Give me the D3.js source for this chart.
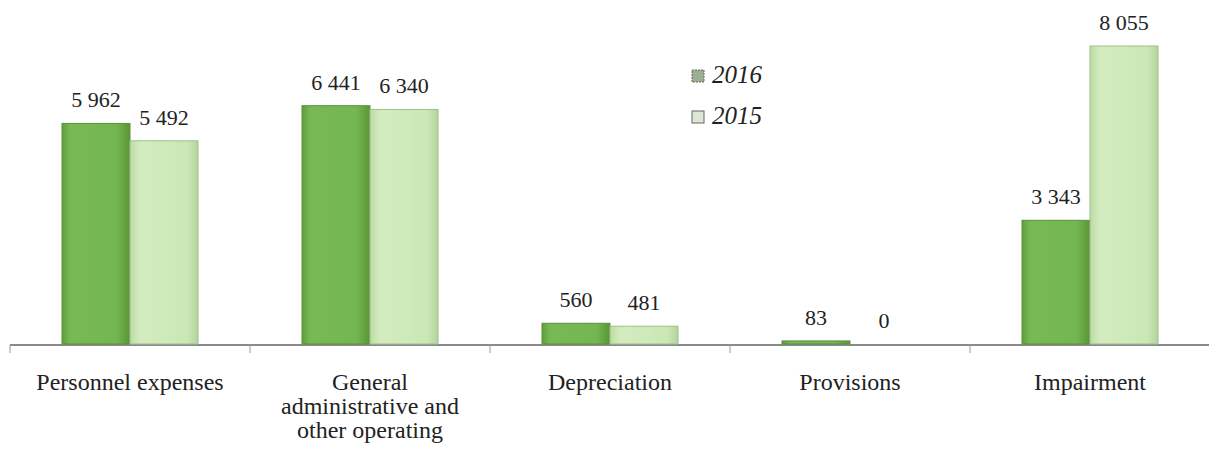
<!DOCTYPE html>
<html>
<head>
<meta charset="utf-8">
<script src="https://cdn.jsdelivr.net/npm/d3@7/dist/d3.min.js"></script>
<style>
  html, body { margin: 0; padding: 0; background: #fff; }
  svg { display: block; }
  text { fill: #222; }
</style>
</head>
<body>
<svg id="chart" width="1209" height="449" font-family="'Liberation Serif', serif"></svg>
<script>
// Operating expenses by type, 2016 vs 2015
const categories = [
  ["Personnel expenses"],
  ["General", "administrative and", "other operating"],
  ["Depreciation"],
  ["Provisions"],
  ["Impairment"]
];
const seriesNames = ["2016", "2015"];
const values2016 = [5962, 6441, 560, 83, 3343];
const values2015 = [5492, 6340, 481, 0, 8055];
const valueLabels2016 = ["5 962", "6 441", "560", "83", "3 343"];
const valueLabels2015 = ["5 492", "6 340", "481", "0", "8 055"];

const svg = d3.select("#chart");
const baseline = 344;

const x0 = d3.scaleBand()
  .domain(d3.range(categories.length))
  .range([10, 1210])
  .paddingInner(0)
  .paddingOuter(0);

const x1 = d3.scaleBand()
  .domain(seriesNames)
  .range([52, 188])
  .padding(0);

const y = d3.scaleLinear()
  .domain([0, 8055])
  .range([baseline, 46]);

// horizontal shading for the bars
const defs = svg.append("defs");
function grad(id, stops) {
  const g = defs.append("linearGradient").attr("id", id)
    .attr("x1", "0%").attr("x2", "100%").attr("y1", "0%").attr("y2", "0%");
  stops.forEach(([o, c]) => g.append("stop").attr("offset", o).attr("stop-color", c));
}
grad("g2016", [["0%", "#5f9e3c"], ["12%", "#78b955"], ["80%", "#74b651"], ["100%", "#5a9538"]]);
grad("g2015", [["0%", "#bcdca3"], ["15%", "#d3ecc1"], ["85%", "#cbe7b5"], ["100%", "#b3d39b"]]);

const fills = { "2016": "url(#g2016)", "2015": "url(#g2015)" };
const strokes = { "2016": "#5a8f3a", "2015": "#9fbf8a" };

const rows = categories.map((c, i) => ({
  i,
  bars: [
    { s: "2016", v: values2016[i], label: valueLabels2016[i] },
    { s: "2015", v: values2015[i], label: valueLabels2015[i] }
  ]
}));

// axis line and tick marks
svg.append("line")
  .attr("x1", 10).attr("x2", 1209)
  .attr("y1", baseline + 1).attr("y2", baseline + 1)
  .attr("stroke", "#8a8a8a").attr("stroke-width", 2);

svg.selectAll(".tick")
  .data(d3.range(categories.length))
  .join("line")
  .attr("class", "tick")
  .attr("x1", d => x0(d)).attr("x2", d => x0(d))
  .attr("y1", baseline + 1).attr("y2", baseline + 9)
  .attr("stroke", "#9a9a9a").attr("stroke-width", 1);

const groups = svg.selectAll(".grp")
  .data(rows)
  .join("g")
  .attr("class", "grp")
  .attr("transform", d => `translate(${x0(d.i)},0)`);

groups.selectAll("rect")
  .data(d => d.bars)
  .join("rect")
  .attr("x", d => x1(d.s))
  .attr("y", d => y(d.v))
  .attr("width", x1.bandwidth())
  .attr("height", d => baseline - y(d.v))
  .attr("fill", d => fills[d.s])
  .attr("stroke", d => d.v > 0 ? strokes[d.s] : "none")
  .attr("stroke-width", 1);

groups.selectAll("text.val")
  .data(d => d.bars)
  .join("text")
  .attr("class", "val")
  .attr("x", d => x1(d.s) + x1.bandwidth() / 2)
  .attr("y", d => y(d.v) - 16)
  .attr("text-anchor", "middle")
  .attr("font-size", 22)
  .text(d => d.label);

// category labels
svg.selectAll("text.cat")
  .data(categories)
  .join("text")
  .attr("class", "cat")
  .attr("x", (d, i) => x0(i) + x0.bandwidth() / 2)
  .attr("y", 390)
  .attr("text-anchor", "middle")
  .attr("font-size", 24)
  .selectAll("tspan")
  .data(d => d)
  .join("tspan")
  .attr("x", function () { return d3.select(this.parentNode).attr("x"); })
  .attr("dy", (d, j) => j === 0 ? 0 : 24)
  .text(d => d);

// legend
const legend = svg.append("g").attr("transform", "translate(692,0)");
const legendRows = [
  { s: "2016", y: 70, fill: "#9bb092" },
  { s: "2015", y: 111, fill: "#dde6d6" }
];
legendRows.forEach(r => {
  legend.append("rect")
    .attr("x", 0).attr("y", r.y).attr("width", 12).attr("height", 12)
    .attr("fill", r.fill).attr("stroke", "#666").attr("stroke-width", 1)
    .attr("stroke-dasharray", r.s === "2016" ? "2,1" : null);
  legend.append("text")
    .attr("x", 20).attr("y", r.y + 13)
    .attr("font-size", 25)
    .attr("font-style", "italic")
    .text(r.s);
});
</script>
</body>
</html>
